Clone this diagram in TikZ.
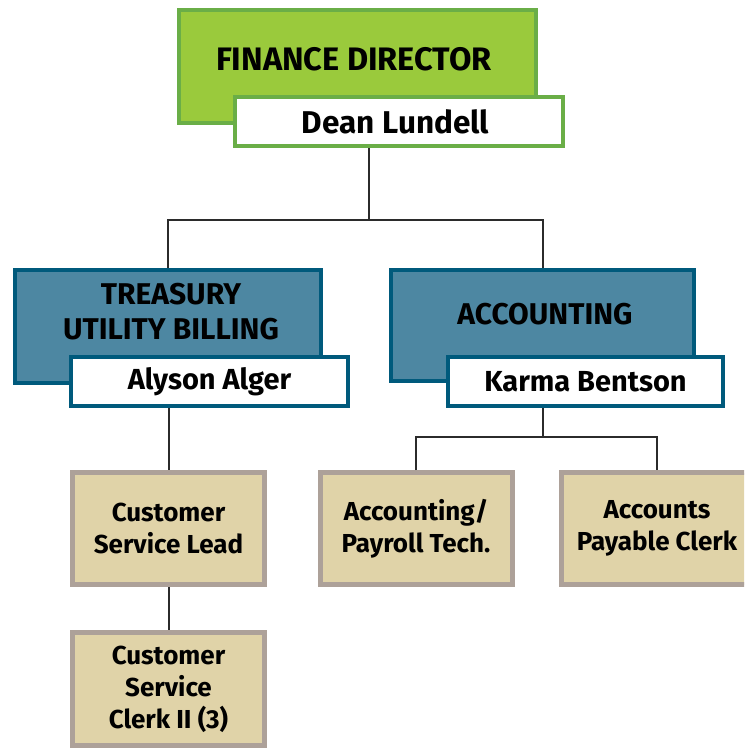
\documentclass[tikz,border=0pt]{standalone}
\usepackage{fontspec}
\setmainfont{Fira Sans}
\usetikzlibrary{positioning,calc}
\definecolor{fdgreen}{HTML}{9ACA3C}
\definecolor{fdgreenline}{HTML}{6AAE47}
\definecolor{deptblue}{HTML}{4D87A2}
\definecolor{deptblueline}{HTML}{005A7C}
\definecolor{stafftan}{HTML}{E0D3A8}
\definecolor{stafftanline}{HTML}{ADA199}
\definecolor{linkgray}{HTML}{2B2B2B}

\begin{document}
\begin{tikzpicture}[x=1pt,y=-1pt,
  headbox/.style={draw=fdgreenline,fill=fdgreen,line width=4pt,minimum width=357pt,minimum height=113pt,inner sep=0pt},
  fdname/.style={draw=fdgreenline,fill=white,line width=4pt,minimum width=328pt,minimum height=49pt,inner sep=0pt},
  deptbox/.style={draw=deptblueline,fill=deptblue,line width=4pt,minimum height=113pt,inner sep=0pt},
  deptname/.style={draw=deptblueline,fill=white,line width=4pt,minimum width=277pt,minimum height=49pt,inner sep=0pt},
  staffbox/.style={draw=stafftanline,fill=stafftan,line width=5pt,minimum width=192pt,minimum height=112pt,inner sep=0pt},
  bigtxt/.style={font=\fontsize{32.5}{34}\selectfont\bfseries},
  nametxt/.style={font=\fontsize{29}{30}\selectfont\bfseries},
  depttxt/.style={font=\fontsize{30}{35}\selectfont\bfseries,align=center},
  stafftxt/.style={font=\fontsize{26}{32}\selectfont\bfseries,align=center},
  link/.style={draw=linkgray,line width=2pt}]
\useasboundingbox (0,0) rectangle (744,749);
\clip (0,0) rectangle (744,749);

\node[headbox] (fd) at (357.5,66.5) {};
\node[bigtxt] (fdtitle) at (354,59) {FINANCE DIRECTOR};
\node[fdname,nametxt,font=\fontsize{31.5}{32}\selectfont\bfseries] (dean) at (399,121.5) {\hspace*{-7pt}Dean Lundell};

\node[deptbox,minimum width=306pt] (treasury) at (168,326.5) {};
\node[depttxt] (treasurytitle) at (171,312) {TREASURY\\UTILITY BILLING};
\node[deptname,nametxt] (alyson) at (209.5,381.5) {Alyson Alger};

\node[deptbox,minimum width=303pt,minimum height=111pt] (acct) at (542.5,325.5) {};
\node[depttxt] (accttitle) at (545,314) {ACCOUNTING};
\node[deptname,minimum width=275pt,nametxt] (karma) at (585.5,381.5) {Karma Bentson};

\node[staffbox,stafftxt] (csl) at (168.5,528.5) {Customer\\Service Lead};
\node[staffbox,stafftxt,minimum height=113pt] (csc) at (168.5,689) {Customer\\Service\\Clerk II (3)};
\node[staffbox,stafftxt] (apt) at (416,528.5) {Accounting/\\Payroll Tech.};
\node[staffbox,stafftxt] (apc) at (657,528.5) {Accounts\\Payable Clerk};

\coordinate (fdjoin) at (369,220);
\coordinate (acjoin) at (543,437);
\draw[link] (dean.south -| fdjoin) -- (fdjoin);
\draw[link] (treasury.north) |- (fdjoin) -| (acct.north);
\draw[link] (alyson.south -| csl.north) -- (csl.north);
\draw[link] (csl.south) -- (csc.north);
\draw[link] (karma.south -| acjoin) -- (acjoin);
\draw[link] (apt.north) |- (acjoin) -| (apc.north);
\end{tikzpicture}
\end{document}
